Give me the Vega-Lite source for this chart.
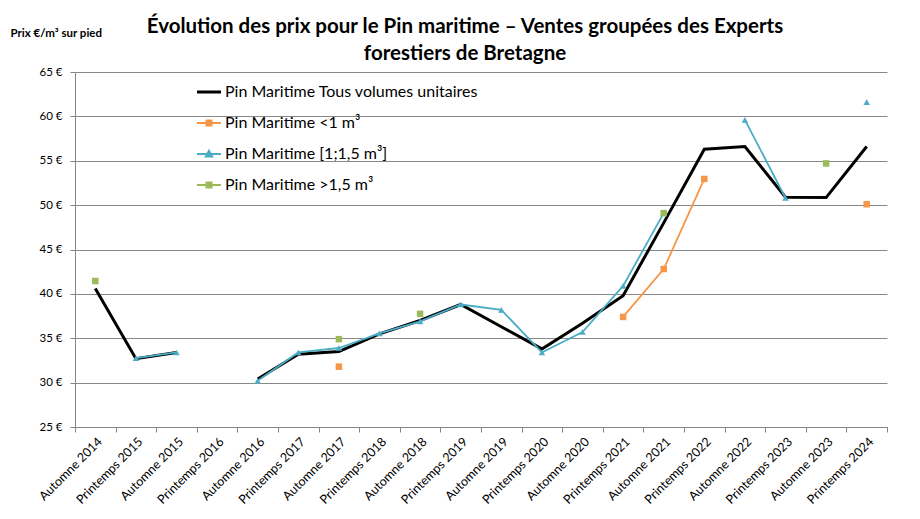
{
  "$schema": "https://vega.github.io/schema/vega-lite/v6.json",
  "autosize": {"type": "none"},
  "width": 812,
  "height": 355,
  "padding": {"left": 75, "top": 72, "right": 33, "bottom": 92},
  "background": "white",
  "config": {
    "view": {"stroke": null},
    "font": "Lato"
  },
  "title": {
    "text": ["Évolution des prix pour le Pin maritime – Ventes groupées des Experts", "forestiers de Bretagne"],
    "font": "Lato",
    "fontSize": 20.5,
    "fontWeight": "bold",
    "anchor": "middle",
    "dx": -16,
    "offset": -37,
    "lineHeight": 27,
    "color": "#000000"
  },
  "data": {
    "values": [
      {"p": "Automne 2014", "s": "Pin Maritime Tous volumes unitaires", "v": 40.6, "g": "T1"},
      {"p": "Printemps 2015", "s": "Pin Maritime Tous volumes unitaires", "v": 32.7, "g": "T1"},
      {"p": "Automne 2015", "s": "Pin Maritime Tous volumes unitaires", "v": 33.4, "g": "T1"},
      {"p": "Automne 2016", "s": "Pin Maritime Tous volumes unitaires", "v": 30.4, "g": "T2"},
      {"p": "Printemps 2017", "s": "Pin Maritime Tous volumes unitaires", "v": 33.2, "g": "T2"},
      {"p": "Automne 2017", "s": "Pin Maritime Tous volumes unitaires", "v": 33.5, "g": "T2"},
      {"p": "Printemps 2018", "s": "Pin Maritime Tous volumes unitaires", "v": 35.5, "g": "T2"},
      {"p": "Automne 2018", "s": "Pin Maritime Tous volumes unitaires", "v": 37.0, "g": "T2"},
      {"p": "Printemps 2019", "s": "Pin Maritime Tous volumes unitaires", "v": 38.8, "g": "T2"},
      {"p": "Automne 2019", "s": "Pin Maritime Tous volumes unitaires", "v": 36.3, "g": "T2"},
      {"p": "Printemps 2020", "s": "Pin Maritime Tous volumes unitaires", "v": 33.8, "g": "T2"},
      {"p": "Automne 2020", "s": "Pin Maritime Tous volumes unitaires", "v": 36.7, "g": "T2"},
      {"p": "Printemps 2021", "s": "Pin Maritime Tous volumes unitaires", "v": 39.8, "g": "T2"},
      {"p": "Automne 2021", "s": "Pin Maritime Tous volumes unitaires", "v": 48.0, "g": "T2"},
      {"p": "Printemps 2022", "s": "Pin Maritime Tous volumes unitaires", "v": 56.3, "g": "T2"},
      {"p": "Automne 2022", "s": "Pin Maritime Tous volumes unitaires", "v": 56.6, "g": "T2"},
      {"p": "Printemps 2023", "s": "Pin Maritime Tous volumes unitaires", "v": 50.9, "g": "T2"},
      {"p": "Automne 2023", "s": "Pin Maritime Tous volumes unitaires", "v": 50.85, "g": "T2"},
      {"p": "Printemps 2024", "s": "Pin Maritime Tous volumes unitaires", "v": 56.6, "g": "T2"},

      {"p": "Automne 2017", "s": "Pin Maritime <1 m³", "v": 31.8, "g": "O1"},
      {"p": "Printemps 2021", "s": "Pin Maritime <1 m³", "v": 37.4, "g": "O2"},
      {"p": "Automne 2021", "s": "Pin Maritime <1 m³", "v": 42.8, "g": "O2"},
      {"p": "Printemps 2022", "s": "Pin Maritime <1 m³", "v": 52.95, "g": "O2"},
      {"p": "Printemps 2024", "s": "Pin Maritime <1 m³", "v": 50.1, "g": "O3"},

      {"p": "Printemps 2015", "s": "Pin Maritime [1;1,5 m³]", "v": 32.75, "g": "B1"},
      {"p": "Automne 2015", "s": "Pin Maritime [1;1,5 m³]", "v": 33.4, "g": "B1"},
      {"p": "Automne 2016", "s": "Pin Maritime [1;1,5 m³]", "v": 30.2, "g": "B2"},
      {"p": "Printemps 2017", "s": "Pin Maritime [1;1,5 m³]", "v": 33.4, "g": "B2"},
      {"p": "Automne 2017", "s": "Pin Maritime [1;1,5 m³]", "v": 33.9, "g": "B2"},
      {"p": "Printemps 2018", "s": "Pin Maritime [1;1,5 m³]", "v": 35.55, "g": "B2"},
      {"p": "Automne 2018", "s": "Pin Maritime [1;1,5 m³]", "v": 36.9, "g": "B2"},
      {"p": "Printemps 2019", "s": "Pin Maritime [1;1,5 m³]", "v": 38.8, "g": "B2"},
      {"p": "Automne 2019", "s": "Pin Maritime [1;1,5 m³]", "v": 38.2, "g": "B2"},
      {"p": "Printemps 2020", "s": "Pin Maritime [1;1,5 m³]", "v": 33.4, "g": "B2"},
      {"p": "Automne 2020", "s": "Pin Maritime [1;1,5 m³]", "v": 35.7, "g": "B2"},
      {"p": "Printemps 2021", "s": "Pin Maritime [1;1,5 m³]", "v": 40.9, "g": "B2"},
      {"p": "Automne 2021", "s": "Pin Maritime [1;1,5 m³]", "v": 49.1, "g": "B2"},
      {"p": "Automne 2022", "s": "Pin Maritime [1;1,5 m³]", "v": 59.6, "g": "B3"},
      {"p": "Printemps 2023", "s": "Pin Maritime [1;1,5 m³]", "v": 50.8, "g": "B3"},
      {"p": "Printemps 2024", "s": "Pin Maritime [1;1,5 m³]", "v": 61.6, "g": "B4"},

      {"p": "Automne 2014", "s": "Pin Maritime >1,5 m³", "v": 41.45, "g": "G1"},
      {"p": "Automne 2017", "s": "Pin Maritime >1,5 m³", "v": 34.9, "g": "G2"},
      {"p": "Automne 2018", "s": "Pin Maritime >1,5 m³", "v": 37.75, "g": "G3"},
      {"p": "Automne 2021", "s": "Pin Maritime >1,5 m³", "v": 49.1, "g": "G4"},
      {"p": "Automne 2023", "s": "Pin Maritime >1,5 m³", "v": 54.7, "g": "G5"}
    ]
  },
  "encoding": {
    "x": {
      "field": "p",
      "type": "nominal",
      "sort": null,
      "scale": {
        "type": "band",
        "paddingInner": 0,
        "paddingOuter": 0,
        "domain": ["Automne 2014", "Printemps 2015", "Automne 2015", "Printemps 2016", "Automne 2016", "Printemps 2017", "Automne 2017", "Printemps 2018", "Automne 2018", "Printemps 2019", "Automne 2019", "Printemps 2020", "Automne 2020", "Printemps 2021", "Automne 2021", "Printemps 2022", "Automne 2022", "Printemps 2023", "Automne 2023", "Printemps 2024"]
      },
      "axis": {
        "title": null,
        "labelAngle": -45,
        "labelAlign": "right",
        "labelBaseline": "top",
        "labelFont": "Lato",
        "labelFontSize": 12.5,
        "labelColor": "#000000",
        "labelPadding": 3,
        "tickBand": "extent",
        "ticks": true,
        "tickSize": 5,
        "tickColor": "#868686",
        "domainColor": "#868686",
        "grid": false
      }
    },
    "y": {
      "field": "v",
      "type": "quantitative",
      "scale": {"domain": [25, 65], "nice": false, "zero": false},
      "axis": {
        "values": [25, 30, 35, 40, 45, 50, 55, 60, 65],
        "labelExpr": "datum.value + ' €'",
        "labelFont": "Lato",
        "labelFontSize": 11.5,
        "labelColor": "#000000",
        "labelPadding": 8,
        "tickSize": 5,
        "tickColor": "#868686",
        "domainColor": "#868686",
        "gridColor": "#888888",
        "gridWidth": 1,
        "title": "Prix €/m³ sur pied",
        "titleFont": "Lato",
        "titleFontSize": 11.5,
        "titleFontWeight": "bold",
        "titleColor": "#000000",
        "titleAngle": 0,
        "titleAlign": "left",
        "titleBaseline": "middle",
        "titleX": -65,
        "titleY": -39
      }
    }
  },
  "layer": [
    {
      "transform": [{"filter": "datum.s === 'Pin Maritime Tous volumes unitaires'"}],
      "mark": {"type": "line", "color": "#000000", "strokeWidth": 3},
      "encoding": {"detail": {"field": "g"}}
    },
    {
      "transform": [{"filter": "datum.s !== 'Pin Maritime Tous volumes unitaires'"}],
      "mark": {"type": "line", "strokeWidth": 1.8},
      "encoding": {
        "detail": {"field": "g"},
        "color": {
          "field": "s",
          "type": "nominal",
          "scale": {
            "domain": ["Pin Maritime Tous volumes unitaires", "Pin Maritime <1 m³", "Pin Maritime [1;1,5 m³]", "Pin Maritime >1,5 m³"],
            "range": ["#000000", "#F79646", "#4BACC6", "#9BBB59"]
          },
          "legend": {
            "title": null,
            "orient": "none",
            "legendX": 126,
            "legendY": 12,
            "direction": "vertical",
            "labelFont": "Lato",
            "labelFontSize": 16,
            "labelColor": "#000000",
            "labelOffset": 8,
            "symbolSize": 576,
            "rowPadding": 15,
            "labelLimit": 400,
            "encode": {
              "symbols": {
                "update": {
                  "shape": {"signal": "datum.value === 'Pin Maritime Tous volumes unitaires' ? 'M-1,0H1' : datum.value === 'Pin Maritime [1;1,5 m³]' ? 'M-1,0H1M0,-0.28L0.28,0.22H-0.28Z' : 'M-1,0H1M-0.22,-0.22H0.22V0.22H-0.22Z'"},
                  "stroke": {"signal": "scale('color', datum.value)"},
                  "fill": {"signal": "datum.value === 'Pin Maritime Tous volumes unitaires' ? 'transparent' : scale('color', datum.value)"},
                  "strokeWidth": {"signal": "datum.value === 'Pin Maritime Tous volumes unitaires' ? 3 : 1.8"},
                  "opacity": {"value": 1}
                }
              }
            }
          }
        }
      }
    },
    {
      "transform": [{"filter": "datum.s !== 'Pin Maritime Tous volumes unitaires'"}],
      "mark": {"type": "point", "filled": true, "opacity": 1, "size": 42},
      "encoding": {
        "color": {"field": "s", "type": "nominal", "legend": null},
        "shape": {
          "field": "s",
          "type": "nominal",
          "scale": {
            "domain": ["Pin Maritime <1 m³", "Pin Maritime [1;1,5 m³]", "Pin Maritime >1,5 m³"],
            "range": ["square", "triangle-up", "square"]
          },
          "legend": null
        }
      }
    }
  ]
}
